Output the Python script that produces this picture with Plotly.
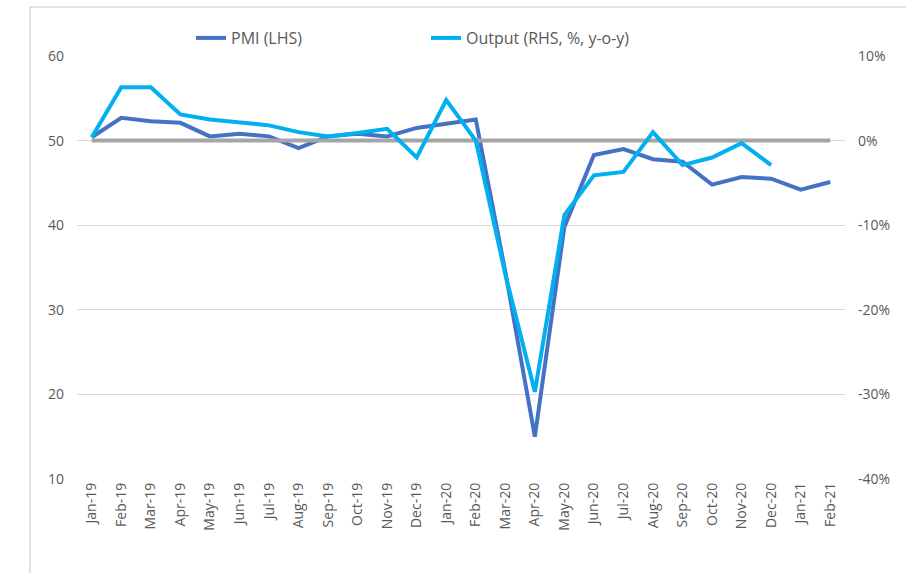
import plotly.graph_objects as go

months = ["Jan-19", "Feb-19", "Mar-19", "Apr-19", "May-19", "Jun-19", "Jul-19", "Aug-19",
          "Sep-19", "Oct-19", "Nov-19", "Dec-19", "Jan-20", "Feb-20", "Mar-20", "Apr-20",
          "May-20", "Jun-20", "Jul-20", "Aug-20", "Sep-20", "Oct-20", "Nov-20", "Dec-20",
          "Jan-21", "Feb-21"]

pmi = [50.4, 52.7, 52.3, 52.1, 50.5, 50.8, 50.5, 49.1, 50.5, 50.8, 50.5, 51.5, 52.0, 52.5,
       34.5, 15.0, 39.8, 48.3, 49.0, 47.8, 47.5, 44.8, 45.7, 45.5, 44.2, 45.1]

output = [0.4, 6.3, 6.3, 3.1, 2.5, 2.2, 1.8, 1.0, 0.5, 0.9, 1.4, -2.0, 4.8, 0.0,
          -15.8, -29.7, -8.8, -4.1, -3.7, 1.0, -2.9, -2.0, -0.3, -2.9, None, None]

zero_line = [0.0] * len(months)

left_ticks = [10, 20, 30, 40, 50, 60]
right_ticks = [-40, -30, -20, -10, 0, 10]
right_labels = ["-40%", "-30%", "-20%", "-10%", "0%", "10%"]

FONT = "Open Sans"
GREY_TXT = "#595959"

fig = go.Figure()
fig.add_trace(go.Scatter(x=months, y=zero_line, yaxis="y2", mode="lines",
                         line=dict(color="#A5A5A5", width=4), showlegend=False,
                         hoverinfo="skip"))
fig.add_trace(go.Scatter(x=months, y=pmi, name="PMI (LHS)", mode="lines",
                         line=dict(color="#4472C4", width=4), legend="legend"))
fig.add_trace(go.Scatter(x=months, y=output, name="Output (RHS, %, y-o-y)", yaxis="y2",
                         mode="lines", line=dict(color="#00B0F0", width=4),
                         legend="legend2"))

L, R, T, B = 77, 61, 56, 94
W, H = 906, 573
pw, ph = W - L - R, H - T - B

def px_x(p):
    return (p - L) / pw

def px_y(p):
    return 1 - (p - T) / ph

fig.update_layout(
    width=W, height=H,
    margin=dict(l=L, r=R, t=T, b=B, autoexpand=False),
    paper_bgcolor="white", plot_bgcolor="white",
    font=dict(family=FONT, color=GREY_TXT, size=14),
    xaxis=dict(type="category", range=[-0.5, len(months) - 0.5], tickangle=-90,
               showgrid=False, showline=False, ticks="", zeroline=False,
               tickfont=dict(size=14, color=GREY_TXT)),
    yaxis=dict(range=[10, 60], tickvals=left_ticks, showgrid=True, gridcolor="#D9D9D9",
               gridwidth=1, zeroline=False, showline=False, ticks="",
               ticklabelstandoff=12, tickfont=dict(size=14, color=GREY_TXT)),
    yaxis2=dict(range=[-40, 10], overlaying="y", side="right", tickvals=right_ticks,
                ticktext=right_labels, showgrid=False, zeroline=False, showline=False,
                ticks="", ticklabelstandoff=12, tickfont=dict(size=14, color=GREY_TXT)),
    legend=dict(orientation="h", x=px_x(191), y=px_y(38), xanchor="left", yanchor="middle",
                font=dict(size=16, color=GREY_TXT), bgcolor="rgba(0,0,0,0)"),
    legend2=dict(orientation="h", x=px_x(426), y=px_y(38), xanchor="left", yanchor="middle",
                 font=dict(size=16, color=GREY_TXT), bgcolor="rgba(0,0,0,0)"),
    shapes=[dict(type="rect", xref="paper", yref="paper",
                 x0=px_x(30), x1=px_x(W + 20), y0=px_y(H + 20), y1=px_y(7),
                 line=dict(color="#D9D9D9", width=1.5), fillcolor="rgba(0,0,0,0)",
                 layer="below")],
    showlegend=True,
)

fig.write_html("out.html", config={"displayModeBar": False},
               post_script="document.body.style.margin='0px';")
